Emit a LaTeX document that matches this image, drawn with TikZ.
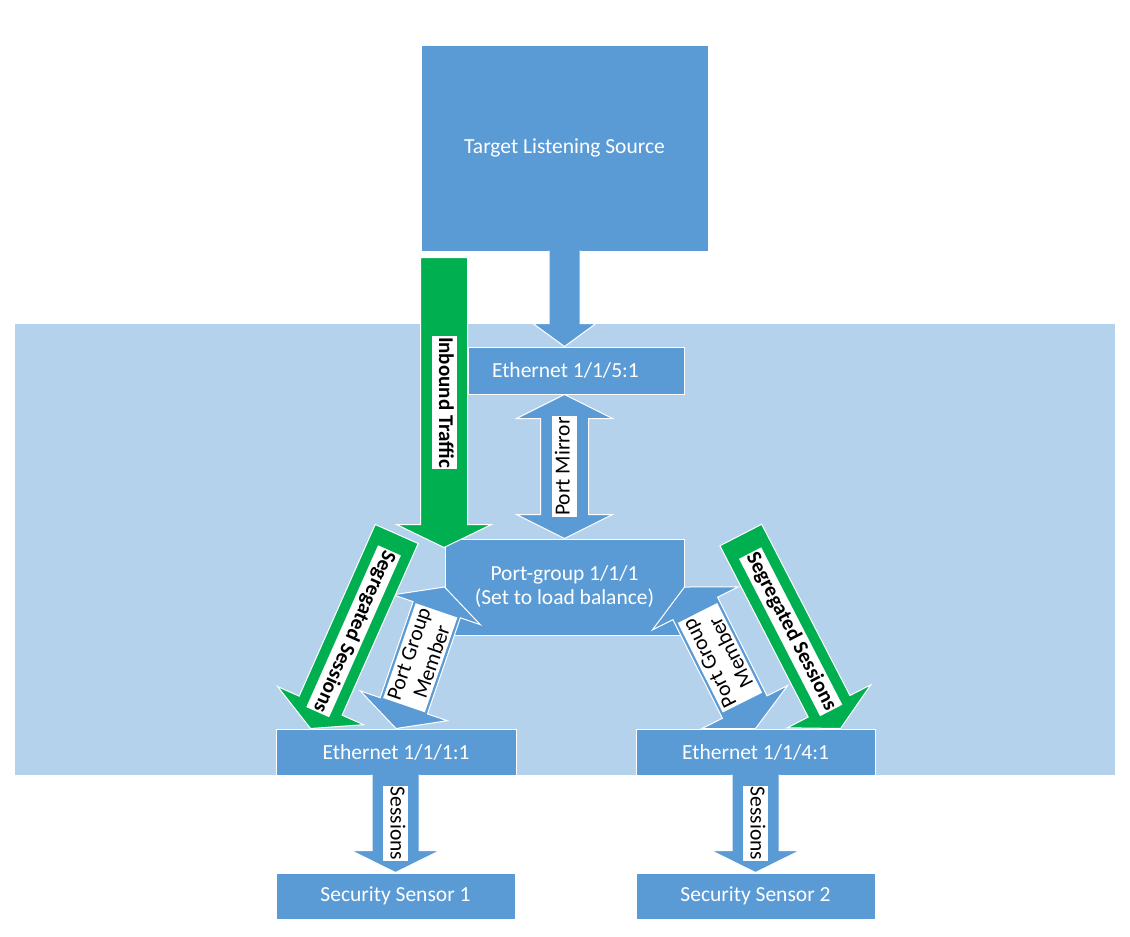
\documentclass[tikz,border=0pt]{standalone}
\usepackage{fontspec}
\setmainfont{Carlito}
\usetikzlibrary{calc}

\definecolor{boxblue}{RGB}{91,155,213}
\definecolor{paleblue}{RGB}{181,210,236}
\definecolor{flowgreen}{RGB}{0,176,80}

% [closing] style, from, to, half shaft, half head, head length
\newcommand{\fatarrow}[7][]{%
  \coordinate (fa-base) at ($(#4)!#7!(#3)$);
  \path[#2] ($(#3)!#5!90:(#4)$) -- ($(fa-base)!#5!90:(#4)$) -- ($(fa-base)!#6!90:(#4)$)
    -- (#4) -- ($(fa-base)!#6!-90:(#4)$) -- ($(fa-base)!#5!-90:(#4)$)
    -- ($(#3)!#5!-90:(#4)$) #1;}
\newcommand{\twinarrow}[6]{%
  \coordinate (ta-a) at ($(#2)!#6!(#3)$);
  \coordinate (ta-b) at ($(#3)!#6!(#2)$);
  \path[#1] (#2) -- ($(ta-a)!#5!90:(#3)$) -- ($(ta-a)!#4!90:(#3)$) -- ($(ta-b)!#4!90:(#3)$)
    -- ($(ta-b)!#5!90:(#3)$) -- (#3) -- ($(ta-b)!#5!-90:(#3)$) -- ($(ta-b)!#4!-90:(#3)$)
    -- ($(ta-a)!#4!-90:(#3)$) -- ($(ta-a)!#5!-90:(#3)$) -- cycle;}

\begin{document}
\begin{tikzpicture}[x=1pt,y=-1pt]
   \tikzstyle{every node}=[font=\fontsize{21.5}{24}\selectfont]
   \tikzstyle{box}=[draw=white, line width=1pt, fill=boxblue, text=white, inner sep=0pt]
   \tikzstyle{blockblue}=[draw=white, line width=1pt, fill=boxblue]
   \tikzstyle{blockgreen}=[draw=white, line width=1pt, fill=flowgreen]
   \tikzstyle{lab}=[fill=white, inner xsep=1pt, inner ysep=2.5pt, text height=15pt, text depth=5pt, sloped, allow upside down]
   \tikzstyle{boldlab}=[lab, font=\fontsize{21}{24}\selectfont\bfseries]
   \tikzstyle{twolab}=[fill=white, inner xsep=2pt, inner ysep=3pt, align=center, sloped, allow upside down]

\useasboundingbox (0,0) rectangle (1130,937);
\fill[paleblue] (15,324) rectangle (1115,775);

\node[box, minimum width=287pt, minimum height=206pt] (target) at (564.5,148) {Target Listening Source};
\node[box, minimum width=216pt, minimum height=47pt] (eth5) at (576,370.5) {\makebox[168pt][l]{Ethernet 1/1/5:1}};
\node[box, minimum width=239pt, minimum height=96pt, align=center] (pg) at (564.5,587) {Port-group 1/1/1\\(Set to load balance)};
\node[box, minimum width=240pt, minimum height=46pt] (eth1) at (396,752) {Ethernet 1/1/1:1};
\node[box, minimum width=239pt, minimum height=46pt] (eth4) at (755.5,752) {Ethernet 1/1/4:1};
\node[box, minimum width=239pt, minimum height=46pt] (sens1) at (395.5,896) {Security Sensor 1};
\node[box, minimum width=239pt, minimum height=46pt] (sens2) at (755.5,896) {Security Sensor 2};

\coordinate (feed-start) at ($(target.south)+(0,-1)$);
\coordinate (feed-tip) at (target.south |- eth5.north);
\coordinate (in-start) at ($(target.south west)+(23.5,6)$);
\coordinate (in-tip) at ($(in-start |- pg.north)+(0,9)$);
\coordinate (mirror-tip) at (pg.north |- eth5.south);
\coordinate (ssl) at (396.7,534);
\coordinate (ssl-tip) at ($(eth1.north west)+(35,0)$);
\coordinate (ssr) at (740.8,535);
\coordinate (ssr-tip) at ($(eth4.north east)+(-35,0)$);
\coordinate (ses1-start) at ($(eth1.south -| sens1.north)+(0,-1)$);
\coordinate (ses2-start) at ($(eth4.south -| sens2.north)+(0,-1)$);

\fatarrow{blockblue}{feed-start}{feed-tip}{15.5pt}{31.5pt}{23pt}
\fatarrow[-- cycle]{blockgreen}{in-start}{in-tip}{23.5pt}{47.5pt}{23pt}
\twinarrow{blockblue}{pg.north}{mirror-tip}{24pt}{48pt}{24pt}
\twinarrow{blockblue}{pg.west}{eth1.north}{25pt}{46pt}{24pt}
\twinarrow{blockblue}{pg.east}{eth4.north}{25pt}{48pt}{24pt}
\fatarrow[-- cycle]{blockgreen}{ssl}{ssl-tip}{23.5pt}{47pt}{25pt}
\fatarrow[-- cycle]{blockgreen}{ssr}{ssr-tip}{23.5pt}{47pt}{25pt}
\fatarrow{blockblue}{ses1-start}{sens1.north}{23.5pt}{44.5pt}{22pt}
\fatarrow{blockblue}{ses2-start}{sens2.north}{23.5pt}{44.5pt}{22pt}

\path (in-start) -- node[boldlab] {Inbound Traffic} (in-tip);
\path (pg.north) -- node[lab] {Port Mirror} (mirror-tip);
\path (eth1.north) -- node[twolab] {Port Group\\Member} (pg.west);
\path (eth4.north) -- node[twolab] {Port Group\\Member} (pg.east);
\path (ssl) -- node[boldlab] {Segregated Sessions} (ssl-tip);
\path (ssr) -- node[boldlab] {Segregated Sessions} (ssr-tip);
\path (ses1-start) -- node[lab] {Sessions} (sens1.north);
\path (ses2-start) -- node[lab] {Sessions} (sens2.north);

\end{tikzpicture}
\end{document}
